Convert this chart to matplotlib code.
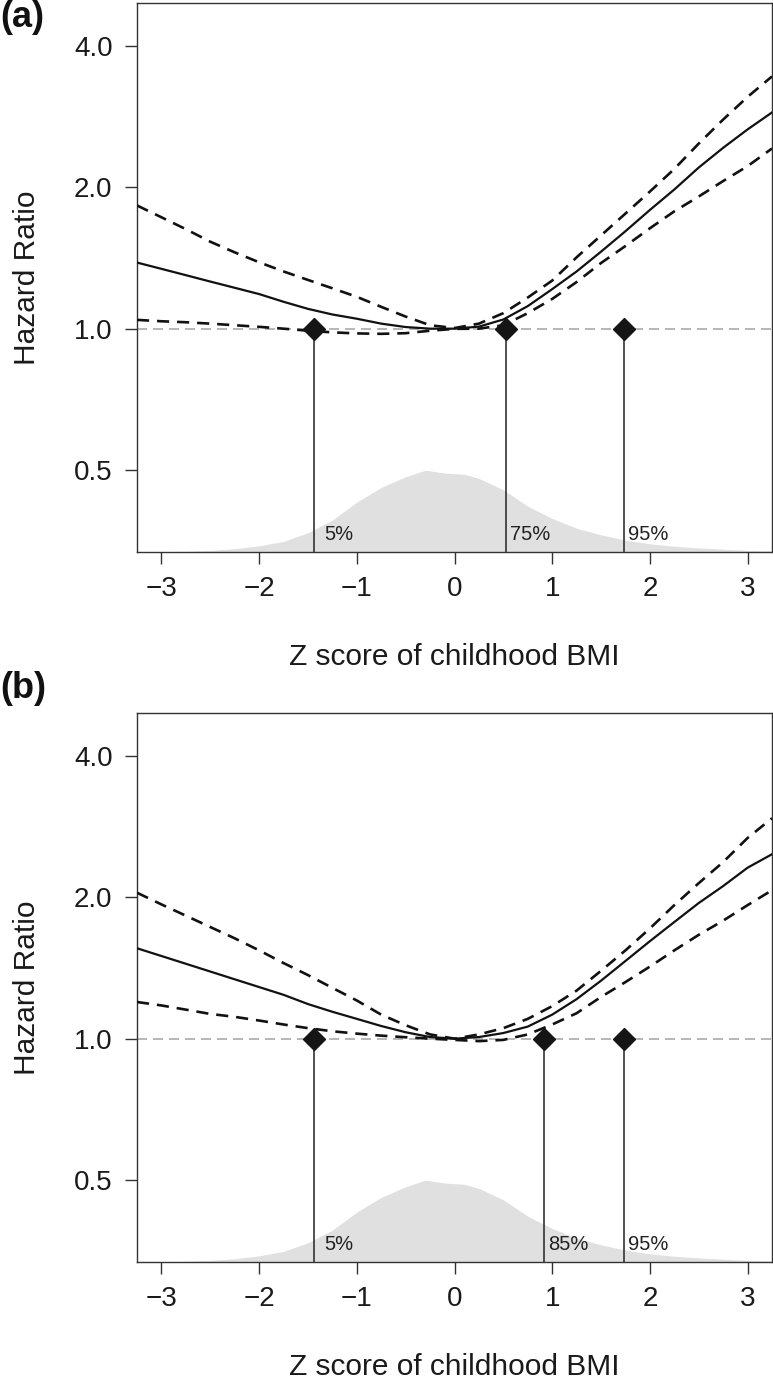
import matplotlib
matplotlib.use("Agg")
import matplotlib.pyplot as plt
from matplotlib.ticker import NullLocator, FixedLocator, FixedFormatter
import numpy as np

plt.rcParams['font.family'] = ['Liberation Sans', 'DejaVu Sans']

# ---------------- data ----------------
z = [-3.25, -3.0, -2.75, -2.5, -2.25, -2.0, -1.75, -1.5, -1.25, -1.0, -0.75, -0.5, -0.25,
     0.0, 0.25, 0.5, 0.75, 1.0, 1.25, 1.5, 1.75, 2.0, 2.25, 2.5, 2.75, 3.0, 3.25]

# panel (a)
hr_a = [1.383, 1.341, 1.300, 1.260, 1.222, 1.185, 1.141, 1.102, 1.072, 1.050, 1.025, 1.008, 1.000,
        1.000, 1.010, 1.046, 1.117, 1.214, 1.324, 1.459, 1.613, 1.790, 1.979, 2.204, 2.428, 2.657, 2.888]
hi_a = [1.830, 1.727, 1.629, 1.532, 1.454, 1.385, 1.324, 1.270, 1.219, 1.169, 1.113, 1.061, 1.017,
        1.003, 1.025, 1.079, 1.165, 1.266, 1.419, 1.580, 1.759, 1.959, 2.189, 2.479, 2.789, 3.117, 3.446]
lo_a = [1.044, 1.037, 1.032, 1.025, 1.017, 1.009, 1.000, 0.990, 0.982, 0.977, 0.975, 0.978, 0.990,
        0.999, 1.000, 1.017, 1.079, 1.157, 1.257, 1.380, 1.500, 1.636, 1.778, 1.912, 2.063, 2.219, 2.420]

# panel (b)
hr_b = [1.558, 1.500, 1.444, 1.390, 1.338, 1.288, 1.240, 1.185, 1.141, 1.102, 1.064, 1.032, 1.008,
        1.000, 1.008, 1.028, 1.061, 1.125, 1.214, 1.329, 1.464, 1.613, 1.772, 1.945, 2.114, 2.313, 2.471]
hi_b = [2.046, 1.932, 1.828, 1.729, 1.636, 1.542, 1.449, 1.366, 1.283, 1.206, 1.125, 1.068, 1.021,
        1.000, 1.021, 1.053, 1.102, 1.173, 1.266, 1.395, 1.542, 1.717, 1.925, 2.144, 2.378, 2.676, 2.948]
lo_b = [1.197, 1.177, 1.153, 1.129, 1.113, 1.093, 1.072, 1.053, 1.037, 1.025, 1.015, 1.007, 1.000,
        0.994, 0.988, 0.994, 1.021, 1.072, 1.133, 1.227, 1.320, 1.424, 1.542, 1.664, 1.784, 1.925, 2.071]

# distribution of z scores (relative density, peak = 1)
dens_x = [-3.25, -3.0, -2.75, -2.5, -2.25, -2.0, -1.75, -1.5, -1.25, -1.0, -0.75, -0.5, -0.3,
          -0.1, 0.1, 0.25, 0.5, 0.75, 1.0, 1.25, 1.5, 1.75, 2.0, 2.25, 2.5, 2.75, 3.0, 3.25]
dens_y = [0.004, 0.005, 0.008, 0.02, 0.04, 0.075, 0.13, 0.235, 0.39, 0.61, 0.79, 0.92, 1.0,
          0.965, 0.95, 0.90, 0.76, 0.56, 0.41, 0.29, 0.21, 0.145, 0.10, 0.07, 0.05, 0.035, 0.02, 0.012]

pct_a = [-1.44, 0.53, 1.73]
pct_a_labels = ["5%", "75%", "95%"]
pct_b = [-1.44, 0.92, 1.73]
pct_b_labels = ["5%", "85%", "95%"]

yticks = [0.5, 1.0, 2.0, 4.0]
ytick_labels = ["0.5", "1.0", "2.0", "4.0"]
xticks = [-3, -2, -1, 0, 1, 2, 3]

panel_tags = ["(a)", "(b)"]
xlabel = "Z score of childhood BMI"
ylabel = "Hazard Ratio"

# ---------------- figure ----------------
W, H = 773, 1379
fig = plt.figure(figsize=(W / 100, H / 100), dpi=100)

YMIN, YMAX = 0.3344, 4.94
ax_left, ax_w, ax_h = 137 / W, 635 / W, 549 / H
ax_a = fig.add_axes([ax_left, 1 - 552 / H, ax_w, ax_h])
ax_b = fig.add_axes([ax_left, 1 - 1262 / H, ax_w, ax_h])


def draw_panel(ax, hr, lo, hi, pcts, pct_labels):
    ax.set_yscale('log')
    trans = ax.get_xaxis_transform()
    ax.fill_between(dens_x, 0, np.asarray(dens_y) * 0.149, transform=trans,
                    color='#e0e0e0', lw=0, zorder=1)
    ax.axhline(1.0, color='#aaaaaa', lw=1.2, dashes=(6, 3.6), zorder=2)
    ax.plot(z, hi, color='#111111', lw=1.9, dashes=(4.6, 3.0), zorder=3)
    ax.plot(z, lo, color='#111111', lw=1.9, dashes=(4.6, 3.0), zorder=3)
    ax.plot(z, hr, color='#111111', lw=1.6, zorder=4)
    ax.vlines(pcts, YMIN, 1.0, color='#333333', lw=1.2, zorder=3)
    ax.plot(pcts, [1.0] * len(pcts), linestyle='none', marker='D', ms=11,
            color='#151515', zorder=5)
    for q, lab in zip(pcts, pct_labels):
        dx = 10 if lab == "5%" else 4
        ax.annotate(lab, xy=(q, 0.022), xycoords=trans, xytext=(dx * 0.72, 0),
                    textcoords='offset points', ha='left', va='baseline',
                    fontsize=14.5, color='#222222', zorder=6)

    ax.set_xlim(-3.25, 3.25)
    ax.set_ylim(YMIN, YMAX)
    ax.yaxis.set_major_locator(FixedLocator(yticks))
    ax.yaxis.set_major_formatter(FixedFormatter(ytick_labels))
    ax.yaxis.set_minor_locator(NullLocator())
    ax.set_xticks(xticks)
    ax.tick_params(axis='both', which='major', direction='out', length=8.6,
                   width=1.0, color='#333333', labelsize=20, pad=9,
                   labelcolor='#1a1a1a')
    for s in ax.spines.values():
        s.set_color('#333333')
        s.set_linewidth(1.0)
    ax.set_xlabel(xlabel, fontsize=21.5, color='#1a1a1a')
    ax.xaxis.set_label_coords(0.5, -0.166)


draw_panel(ax_a, hr_a, lo_a, hi_a, pct_a, pct_a_labels)
draw_panel(ax_b, hr_b, lo_b, hi_b, pct_b, pct_b_labels)

# y labels
for ax in (ax_a, ax_b):
    pos = ax.get_position()
    fig.text(27 / W, pos.y0 + pos.height / 2, ylabel, rotation=90, ha='center',
             va='center', fontsize=21.5, color='#1a1a1a')

# panel tags
fig.text(0.0, 1.0, panel_tags[0], ha='left', va='top', fontsize=26,
         fontweight='bold', color='#111111')
fig.text(0.0, 1 - 706 / H, panel_tags[1], ha='left', va='bottom', fontsize=26,
         fontweight='bold', color='#111111')

fig.savefig("out.png", dpi=100)
